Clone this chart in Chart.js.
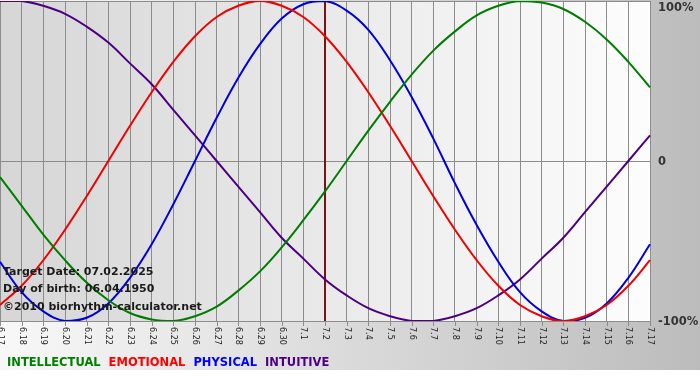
<!DOCTYPE html>
<html>
<head>
<meta charset="utf-8">
<script src="https://cdn.jsdelivr.net/npm/chart.js@4"></script>
<style>
  html, body { margin: 0; padding: 0; background: #fff; }
  #wrap { width: 700px; height: 380px; }
</style>
</head>
<body>
<div id="wrap"><canvas id="chart" width="700" height="380"></canvas></div>
<script>
// day labels on the x axis
const days = ['6.17','6.18','6.19','6.20','6.21','6.22','6.23','6.24','6.25','6.26','6.27','6.28','6.29','6.30',
    '7.1','7.2','7.3','7.4','7.5','7.6','7.7','7.8','7.9','7.10','7.11','7.12','7.13','7.14','7.15','7.16','7.17'];

// cycle values, -1 .. 1
const physical = [-0.63,-0.82,-0.94,-1.00,-0.98,-0.89,-0.73,-0.52,-0.27,0.00,0.27,0.52,0.73,0.89,0.98,1.00,
    0.94,0.82,0.63,0.40,0.14,-0.14,-0.40,-0.63,-0.82,-0.94,-1.00,-0.98,-0.89,-0.73,-0.52];
const emotional = [-0.90,-0.78,-0.62,-0.43,-0.22,0.00,0.22,0.43,0.62,0.78,0.90,0.97,1.00,0.97,0.90,0.78,
    0.62,0.43,0.22,0.00,-0.22,-0.43,-0.62,-0.78,-0.90,-0.97,-1.00,-0.97,-0.90,-0.78,-0.62];
const intellectual = [-0.10,-0.28,-0.46,-0.62,-0.76,-0.87,-0.95,-0.99,-1.00,-0.97,-0.91,-0.81,-0.69,-0.54,-0.37,-0.19,
    0.00,0.19,0.37,0.54,0.69,0.81,0.91,0.97,1.00,0.99,0.95,0.87,0.76,0.62,0.46];
const intuitive = [1.00,1.00,0.97,0.92,0.84,0.74,0.61,0.48,0.32,0.16,0.00,-0.16,-0.32,-0.48,-0.61,-0.74,
    -0.84,-0.92,-0.97,-1.00,-1.00,-0.97,-0.92,-0.84,-0.74,-0.61,-0.48,-0.32,-0.16,0.00,0.16];

const yTicks = [1, 0, -1];
const yTickLabels = ['100%', '0', '-100%'];
const targetDay = '7.2';
const infoLines = ['Target Date: 07.02.2025', 'Day of birth: 06.04.1950', '\u00A92010 biorhythm-calculator.net'];
const legendNames = ['INTELLECTUAL', 'EMOTIONAL', 'PHYSICAL', 'INTUITIVE'];
const legendColors = ['#008000', '#ff0000', '#0000ff', '#4b0082'];

// backgrounds: outer gradient and plot area gradient
const backdrop = {
    id: 'backdrop',
    beforeDraw(chart) {
        const ctx = chart.ctx;
        const a = chart.chartArea;
        ctx.save();
        ctx.fillStyle = '#ffffff';
        ctx.fillRect(0, 0, chart.width, chart.height);
        let g = ctx.createLinearGradient(0, 0, chart.width, 0);
        g.addColorStop(0, '#f8f8f8');
        g.addColorStop(1, '#bcbcbc');
        ctx.fillStyle = g;
        ctx.fillRect(0, 0, chart.width, 370);
        g = ctx.createLinearGradient(a.left, 0, a.right, 0);
        g.addColorStop(0, '#d6d6d6');
        g.addColorStop(1, '#fdfdfd');
        ctx.fillStyle = g;
        ctx.fillRect(a.left, a.top, a.right - a.left, a.bottom - a.top);
        ctx.restore();
    },
    beforeDatasetsDraw(chart) {
        // target date marker
        const ctx = chart.ctx;
        const a = chart.chartArea;
        const x = chart.scales.x.getPixelForValue(days.indexOf(targetDay));
        ctx.save();
        ctx.strokeStyle = '#7a1414';
        ctx.lineWidth = 2;
        ctx.beginPath();
        ctx.moveTo(x, a.top);
        ctx.lineTo(x, a.bottom);
        ctx.stroke();
        ctx.restore();
    },
    afterDraw(chart) {
        const ctx = chart.ctx;
        const a = chart.chartArea;
        const xs = chart.scales.x;
        const ys = chart.scales.y;
        ctx.save();

        // x tick marks and rotated day labels
        ctx.strokeStyle = '#8c8c8c';
        ctx.lineWidth = 1;
        ctx.fillStyle = '#222';
        ctx.font = '8px "DejaVu Sans"';
        ctx.textAlign = 'left';
        ctx.textBaseline = 'middle';
        days.forEach((d, i) => {
            const x = Math.round(xs.getPixelForValue(i)) + 0.5;
            ctx.beginPath();
            ctx.moveTo(x, a.bottom);
            ctx.lineTo(x, a.bottom + 5);
            ctx.stroke();
            ctx.save();
            ctx.translate(x, a.bottom + 6);
            ctx.rotate(Math.PI / 2);
            ctx.fillText(d, 0, 0);
            ctx.restore();
        });

        // right side percent labels
        ctx.fillStyle = '#333';
        ctx.font = 'bold 11.5px "DejaVu Sans"';
        yTicks.forEach((v, i) => {
            let y = ys.getPixelForValue(v);
            if (y < 7) y = 7;
            ctx.fillText(yTickLabels[i], a.right + 8, y + 1);
        });

        // info text
        ctx.fillStyle = '#1a1a1a';
        ctx.font = 'bold 11px "DejaVu Sans"';
        ctx.textBaseline = 'alphabetic';
        const baselines = [275, 292, 310];
        infoLines.forEach((t, i) => ctx.fillText(t, 3, baselines[i]));

        // legend row
        ctx.font = 'bold 11.5px "DejaVu Sans"';
        let lx = 7;
        legendNames.forEach((n, i) => {
            ctx.fillStyle = legendColors[i];
            ctx.fillText(n, lx, 366);
            lx += ctx.measureText(n).width + 8;
        });
        ctx.restore();
    }
};

const line = (label, data, color) => ({
    label, data,
    borderColor: color,
    borderWidth: 2,
    pointRadius: 0,
    tension: 0.4,
    fill: false
});

new Chart(document.getElementById('chart'), {
    type: 'line',
    data: {
        labels: days,
        datasets: [
            line('INTELLECTUAL', intellectual, '#007c00'),
            line('EMOTIONAL', emotional, '#f00000'),
            line('PHYSICAL', physical, '#0000dd'),
            line('INTUITIVE', intuitive, '#4b0082')
        ]
    },
    options: {
        responsive: false,
        animation: false,
        layout: { padding: { left: 0, top: 1, right: 50, bottom: 59 } },
        plugins: { legend: { display: false }, tooltip: { enabled: false } },
        scales: {
            x: {
                offset: false,
                ticks: { display: false },
                grid: { color: '#8c8c8c', lineWidth: 1, drawTicks: false },
                border: { display: false },
                afterFit: s => { s.height = 0; }
            },
            y: {
                min: -1, max: 1,
                ticks: { display: false, stepSize: 1 },
                grid: { color: '#8c8c8c', lineWidth: 1, drawTicks: false },
                border: { display: false },
                afterFit: s => { s.width = 0; }
            }
        }
    },
    plugins: [backdrop]
});
</script>
</body>
</html>
